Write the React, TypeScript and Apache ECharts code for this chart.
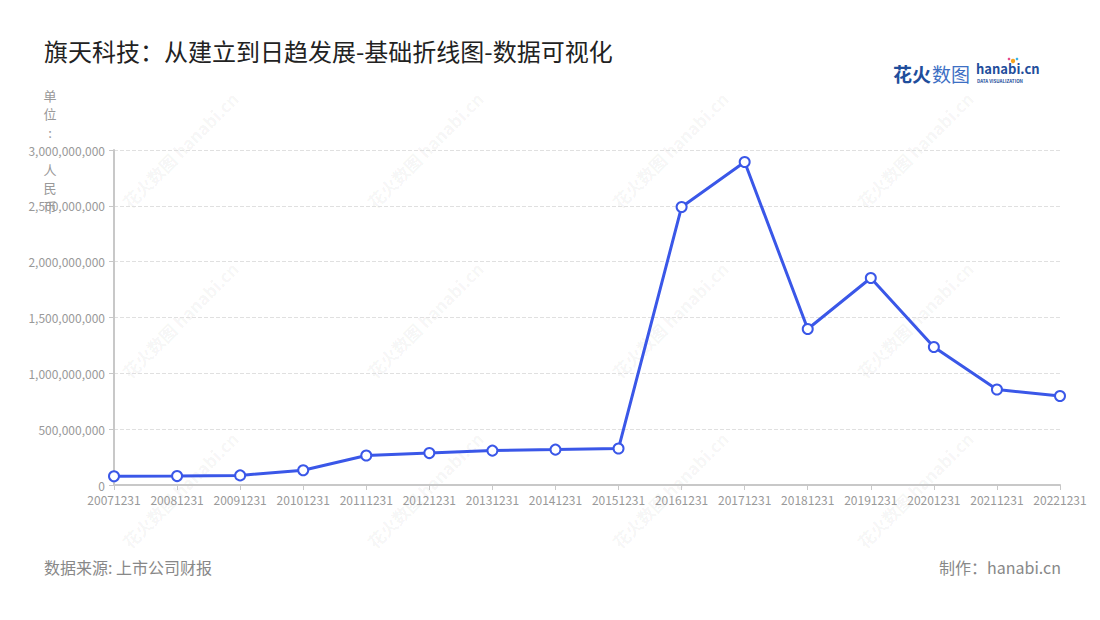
import React, { useEffect, useRef } from "react";
import * as echarts from "echarts";

const categories = [
  "20071231", "20081231", "20091231", "20101231", "20111231", "20121231",
  "20131231", "20141231", "20151231", "20161231", "20171231", "20181231",
  "20191231", "20201231", "20211231", "20221231",
];
const values = [
  78000000, 80000000, 86000000, 132000000, 264000000, 286000000,
  308000000, 317000000, 327000000, 2490000000, 2893000000, 1397000000,
  1854000000, 1236000000, 855000000, 797000000,
];
const title = "旗天科技：从建立到日趋发展-基础折线图-数据可视化";
const unitLabel = "单\n位\n:\n\n人\n民\n币";
const sourceText = "数据来源: 上市公司财报";
const makerText = "制作：hanabi.cn";

const FONT = "'Noto Sans CJK SC', 'Noto Sans', sans-serif";

function watermarks() {
  const out: any[] = [];
  const xs = [180, 425, 670, 915];
  const ys = [150, 320, 490];
  for (const x of xs) {
    for (const y of ys) {
      out.push({
        type: "group",
        x,
        y,
        rotation: Math.PI / 4,
        silent: true,
        z: 0,
        children: [
          {
            type: "text",
            x: 0,
            y: 0,
            style: {
              text: "花火数图 hanabi.cn",
              fill: "rgba(0,0,0,0.05)",
              font: `bold 17px ${FONT}`,
              textAlign: "center",
              textVerticalAlign: "middle",
            },
          },
        ],
      });
    }
  }
  return out;
}

export default function App() {
  const ref = useRef<HTMLDivElement>(null);
  useEffect(() => {
    if (!ref.current) return;
    const chart = echarts.init(ref.current, undefined, { renderer: "svg" });
    chart.setOption({
      animation: false,
      backgroundColor: "#ffffff",
      textStyle: { fontFamily: FONT },
      grid: { left: 114, right: 40, top: 150, bottom: 135, containLabel: false },
      xAxis: {
        type: "category",
        data: categories,
        boundaryGap: false,
        axisLine: { show: true, lineStyle: { color: "#c8c8c8", width: 2 } },
        axisTick: { show: true, alignWithLabel: true, lineStyle: { color: "#c8c8c8" } },
        axisLabel: { color: "#999999", fontSize: 12, interval: 0, margin: 8, fontFamily: FONT },
        splitLine: { show: false },
      },
      yAxis: {
        type: "value",
        min: 0,
        max: 3000000000,
        interval: 500000000,
        axisLine: { show: true, lineStyle: { color: "#c8c8c8", width: 2 } },
        axisTick: { show: true, lineStyle: { color: "#c8c8c8" } },
        axisLabel: {
          color: "#999999",
          fontSize: 12,
          margin: 9,
          fontFamily: FONT,
          formatter: (v: number) => v.toLocaleString("en-US"),
        },
        splitLine: { show: true, lineStyle: { color: "#e0e0e0", type: "dashed" } },
      },
      series: [
        {
          type: "line",
          data: values,
          symbol: "circle",
          symbolSize: 10,
          showSymbol: true,
          lineStyle: { color: "#3a57e8", width: 3 },
          itemStyle: { color: "#ffffff", borderColor: "#3a57e8", borderWidth: 2 },
          z: 3,
        },
      ],
      graphic: [
        ...watermarks(),
        {
          type: "text",
          left: 44,
          top: 38,
          style: { text: title, fill: "#222222", font: `24px ${FONT}` },
        },
        {
          type: "text",
          x: 50,
          y: 86,
          style: {
            text: unitLabel,
            fill: "#999999",
            font: `13px ${FONT}`,
            textAlign: "center",
            lineHeight: 18.5,
          },
          z: 10,
        },
        {
          type: "text",
          x: 44,
          y: 567,
          style: {
            text: sourceText,
            fill: "#888888",
            font: `16px ${FONT}`,
            textVerticalAlign: "middle",
          },
        },
        {
          type: "text",
          x: 1061,
          y: 567,
          style: {
            text: makerText,
            fill: "#888888",
            font: `16px ${FONT}`,
            textAlign: "right",
            textVerticalAlign: "middle",
          },
        },
        {
          type: "text",
          x: 893,
          y: 73,
          style: {
            text: "花火",
            fill: "#1f4e9c",
            font: `bold 19px ${FONT}`,
            textVerticalAlign: "middle",
          },
        },
        {
          type: "text",
          x: 932,
          y: 73,
          style: {
            text: "数图",
            fill: "#3d6fc4",
            font: `19px ${FONT}`,
            textVerticalAlign: "middle",
          },
        },
        {
          type: "text",
          x: 976,
          y: 68.5,
          style: {
            text: "hanabi.cn",
            fill: "#1f4e9c",
            font: `bold 13px ${FONT}`,
            textVerticalAlign: "middle",
          },
        },
        {
          type: "text",
          x: 977,
          y: 81,
          style: {
            text: "DATA VISUALIZATION",
            fill: "#1f4e9c",
            font: `bold 4.5px ${FONT}`,
            textVerticalAlign: "middle",
          },
        },
        {
          type: "circle",
          shape: { cx: 1013, cy: 61, r: 2.2 },
          style: { fill: "#f5a623" },
        },
        {
          type: "circle",
          shape: { cx: 1009, cy: 59, r: 1.3 },
          style: { fill: "#e84a8a" },
        },
        {
          type: "circle",
          shape: { cx: 1017, cy: 59, r: 1.3 },
          style: { fill: "#3bb4e5" },
        },
      ],
    });
    return () => chart.dispose();
  }, []);
  return <div ref={ref} style={{ width: 1100, height: 620, margin: -8 }} />;
}
